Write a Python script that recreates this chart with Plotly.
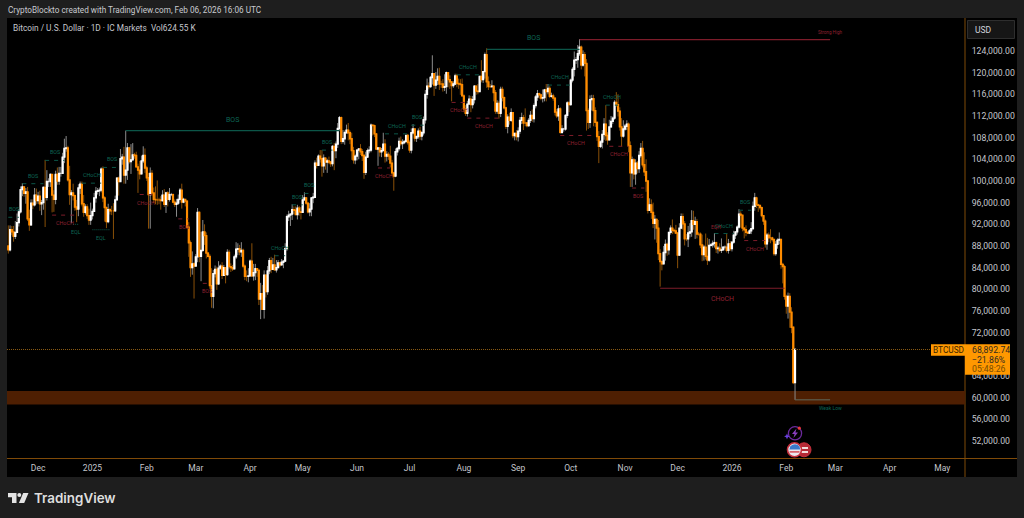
import plotly.graph_objects as go
import pandas as pd

FIRST_DAY = "2024-11-14"
# daily values, thousands of USD, one line per calendar month
closes = [
 87.3,91.0,90.6,89.8,90.5,92.3,94.3,98.4,98.9,97.7,98.0,93.0,91.9,95.9,95.6,97.4,96.4,
 97.2,95.8,96.0,98.8,97.0,99.9,99.9,101.2,97.4,96.6,101.2,100.0,101.4,101.4,104.4,106.0,106.1,100.2,97.5,97.8,97.3,95.2,94.8,98.7,99.4,95.8,94.2,95.2,93.6,92.8,93.6,
 94.4,96.9,98.1,98.2,98.3,102.2,96.9,95.1,92.5,94.7,94.5,94.5,94.5,96.5,100.5,99.9,104.1,104.4,101.1,102.0,106.1,103.6,103.9,104.8,104.7,102.6,102.0,101.3,103.7,104.7,102.4,
 100.6,97.5,101.4,97.8,96.6,96.5,96.5,96.5,96.4,97.4,95.7,97.8,96.6,97.5,97.5,96.1,95.7,95.9,96.6,98.3,96.1,96.6,96.3,91.5,88.6,84.0,84.7,84.3,
 86.0,94.2,86.1,87.2,90.6,89.9,86.7,86.1,80.7,78.7,82.9,83.7,81.0,83.9,84.3,82.6,84.0,82.7,86.8,84.2,84.0,83.8,86.0,87.4,87.5,86.9,87.2,84.3,82.4,82.4,82.5,
 85.2,82.5,83.1,83.8,83.5,78.2,79.2,76.3,82.6,79.6,83.4,85.3,83.7,84.5,83.6,84.0,84.9,84.5,85.0,85.2,87.5,93.4,93.7,93.9,94.7,94.6,93.8,95.0,94.3,94.2,
 96.5,96.9,95.9,94.3,94.8,96.9,97.0,103.3,102.9,104.6,104.1,102.8,104.2,103.5,103.7,103.5,103.2,106.4,105.6,106.8,109.7,111.7,107.3,107.8,108.9,109.4,108.9,107.8,105.6,103.9,104.6,
 105.7,105.9,105.4,104.7,101.6,104.4,105.6,105.7,110.3,110.2,108.7,105.9,106.1,105.4,105.6,106.8,104.6,104.9,104.6,103.3,101.5,100.9,105.4,106.0,107.3,106.9,107.1,107.3,108.4,107.1,
 105.7,108.9,109.6,107.9,108.2,109.2,108.3,108.9,111.3,116.0,117.5,117.4,119.1,119.8,117.7,118.6,119.3,117.9,117.9,117.3,117.4,120.0,118.7,118.3,117.6,117.9,119.4,118.0,117.9,117.8,115.7,
 113.3,112.5,114.2,115.1,114.1,115.0,117.5,116.6,116.5,119.3,118.7,120.2,123.3,118.3,117.4,117.4,117.5,116.3,112.9,114.3,112.5,116.9,115.4,113.5,110.1,111.8,111.2,112.6,108.4,108.8,108.2,
 109.2,111.2,111.7,110.7,110.7,110.2,111.2,112.1,111.5,113.9,115.5,116.1,115.9,115.3,115.4,116.8,116.5,117.1,115.6,115.7,115.3,112.7,112.0,113.3,109.0,109.6,109.6,112.1,114.4,114.1,
 118.6,120.6,122.3,122.4,123.5,124.7,121.4,123.3,121.7,113.0,110.8,115.0,115.2,113.0,110.8,108.2,106.4,107.2,108.6,110.5,108.4,107.6,110.0,111.0,111.6,114.5,114.1,112.9,110.0,108.3,109.6,
 110.1,110.5,106.5,101.5,103.9,101.3,103.3,102.3,104.7,106.0,103.0,101.7,100.0,94.6,95.6,94.2,92.2,92.9,91.3,86.6,85.1,84.7,86.8,88.3,87.3,90.5,91.3,90.9,90.8,90.4,
 86.3,91.3,93.4,92.1,89.3,89.3,90.4,90.6,92.7,92.0,92.5,90.2,90.2,88.2,86.4,87.8,86.1,85.4,88.1,88.2,88.5,88.6,87.5,87.6,87.2,87.3,87.8,87.8,87.2,88.4,87.5,
 88.7,90.0,90.6,91.5,93.9,93.7,91.3,91.0,90.5,90.4,90.8,91.2,95.3,96.9,95.6,95.5,95.1,93.6,92.6,88.4,90.0,89.5,89.5,89.2,86.6,88.3,89.1,89.2,84.6,84.2,78.7,
 76.9,78.7,75.8,73.0,62.8,68.89,
]
highs = [
 91.8,91.8,91.7,91.7,92.6,94.0,94.8,99.0,99.6,99.0,98.7,98.9,94.7,96.6,96.6,98.7,98.6,
 98.0,98.2,96.5,99.0,103.9,102.0,100.5,101.4,101.2,98.3,101.9,102.5,102.6,102.6,105.2,107.8,108.3,106.5,102.8,98.3,99.5,97.5,96.5,99.4,99.9,99.9,97.4,95.7,95.7,94.9,96.0,
 94.9,97.8,98.9,98.7,98.8,102.5,102.7,97.2,95.3,95.8,95.0,95.4,95.9,97.3,100.7,100.8,105.9,105.0,106.3,109.3,107.0,106.3,106.8,107.0,105.2,105.4,103.2,103.7,104.7,106.4,106.0,
 102.8,101.5,102.5,102.0,98.8,99.0,100.1,96.9,97.2,98.3,98.5,98.0,98.1,98.7,97.8,97.7,96.6,96.7,97.5,98.7,99.5,96.9,96.6,96.4,92.4,89.0,87.0,85.0,
 86.5,95.0,94.4,90.6,92.8,92.0,90.5,86.9,86.5,83.9,83.6,84.4,84.2,85.2,84.6,85.0,84.5,84.0,87.4,87.3,84.8,84.5,86.4,88.7,88.5,88.2,88.7,87.5,84.6,83.5,83.9,
 85.5,88.5,84.7,84.7,83.9,83.8,81.2,80.8,83.5,82.7,84.3,85.8,86.0,85.8,86.4,85.4,85.4,85.0,85.6,85.3,88.5,93.8,94.5,94.0,95.7,95.3,95.3,95.6,95.4,95.2,
 97.4,97.9,97.0,96.0,95.9,96.9,97.8,103.8,104.3,104.9,105.7,105.7,104.9,104.4,104.1,104.5,103.7,106.6,107.0,107.3,110.7,112.0,111.9,109.4,109.3,110.4,110.7,109.3,108.9,106.3,104.9,
 105.8,106.0,106.8,105.9,105.0,105.4,106.0,106.4,110.6,110.4,110.4,108.6,106.2,106.2,106.1,108.9,107.7,105.5,105.3,106.5,103.9,101.7,106.0,106.3,108.0,108.2,107.7,107.5,108.5,108.7,
 107.5,109.7,110.5,109.7,108.4,109.7,110.0,109.2,111.9,116.8,118.9,118.2,119.4,123.2,119.9,120.1,120.8,120.9,118.5,118.8,119.7,120.2,120.1,119.5,118.3,118.4,119.8,119.8,118.9,118.8,118.9,
 116.0,114.0,114.8,115.8,115.7,115.7,117.7,117.6,117.9,119.4,122.3,120.3,123.7,124.5,119.3,117.9,118.6,117.7,116.8,114.9,114.8,117.4,117.4,115.6,113.7,112.3,112.6,113.4,112.6,108.9,109.4,
 109.9,111.8,112.6,112.2,113.4,110.9,111.6,112.9,113.2,114.3,115.9,116.8,116.3,116.1,116.9,117.0,117.9,117.9,117.5,116.3,116.1,115.4,113.3,114.0,113.6,110.3,109.8,112.3,114.7,114.8,
 118.9,121.0,123.9,122.9,125.1,126.2,125.0,124.1,123.8,122.5,113.4,115.8,115.9,115.9,113.6,111.0,109.2,107.5,109.4,111.6,114.0,109.0,111.3,112.0,111.9,114.9,116.4,116.0,113.6,111.6,111.2,
 110.5,111.2,110.8,107.3,104.5,104.2,104.0,103.7,105.5,107.0,107.4,105.3,104.0,99.0,96.8,96.6,96.0,93.7,93.1,92.8,87.4,85.4,88.0,89.2,88.6,90.6,91.8,92.9,91.2,91.9,
 90.4,92.2,94.0,94.0,92.6,90.2,91.7,92.2,94.6,94.5,93.4,93.0,90.6,90.5,90.1,88.2,90.3,89.5,89.3,88.5,89.0,90.4,88.8,88.0,88.5,89.4,87.9,88.1,90.3,89.3,88.9,
 88.8,90.8,90.7,91.8,94.8,94.4,93.6,91.5,91.8,90.7,91.1,92.4,96.2,97.8,97.1,95.8,95.5,95.3,93.6,92.9,90.4,90.5,91.1,89.7,89.3,88.9,89.4,90.5,89.3,84.9,84.5,
 79.0,79.4,79.3,76.7,73.1,69.1,
]
lows = [
 86.6,87.0,90.0,88.8,89.3,90.4,91.6,94.0,97.2,97.1,95.8,92.6,90.8,91.7,94.8,95.3,95.7,
 95.8,94.5,93.7,94.7,91.5,96.4,98.9,98.9,94.2,94.3,95.7,99.3,99.3,100.8,101.3,103.3,105.4,99.9,95.6,92.2,96.4,94.5,92.4,93.5,97.6,95.3,93.4,93.8,93.0,91.9,91.9,
 92.9,94.3,96.0,97.5,97.2,97.9,96.1,92.5,91.3,92.2,93.8,93.7,89.3,94.3,96.5,97.3,100.0,103.0,99.5,99.5,100.2,103.2,101.3,103.8,104.1,102.5,97.8,100.3,101.3,103.3,101.5,
 100.0,91.2,91.2,97.3,95.9,95.7,95.6,95.7,94.7,96.2,95.2,94.1,95.3,96.2,97.2,95.9,95.2,93.4,95.6,96.4,94.9,95.9,95.3,91.2,86.0,82.3,82.7,78.3,
 84.3,85.0,85.0,81.5,86.9,88.2,85.7,85.9,80.1,76.6,76.5,82.2,79.9,80.8,83.6,81.9,82.5,81.1,82.5,83.7,83.2,83.4,83.7,85.6,86.3,86.3,86.0,83.9,81.7,81.5,81.3,
 82.4,82.3,81.6,81.7,82.3,77.1,74.5,76.2,74.6,78.5,79.0,82.8,83.0,83.6,83.5,83.1,83.9,84.1,84.4,83.9,85.2,87.1,92.6,91.7,92.8,93.9,93.7,92.9,93.6,92.9,
 94.1,96.4,95.6,94.0,93.5,93.5,95.9,96.9,102.3,102.8,103.4,100.8,101.5,102.1,101.5,103.1,102.6,102.7,102.0,104.2,106.1,109.3,106.8,106.9,106.7,108.8,107.5,106.8,103.9,103.2,103.1,
 103.8,104.0,104.8,103.7,100.4,101.1,104.6,105.1,105.3,108.4,108.1,105.7,102.8,104.5,104.4,106.0,103.4,103.6,103.9,102.5,100.9,98.2,100.7,104.7,105.6,106.5,105.9,106.8,107.1,106.7,
 105.2,105.1,108.6,107.3,107.2,107.8,107.6,107.5,108.4,110.6,115.2,116.9,117.2,117.8,115.7,117.0,117.7,116.8,117.2,116.5,116.6,116.1,117.3,117.0,114.7,117.2,117.7,117.3,117.0,115.9,115.7,
 112.7,112.0,111.9,114.2,112.7,113.4,114.3,115.9,116.0,116.5,118.2,118.1,118.9,117.2,116.8,117.2,117.2,114.7,112.4,112.4,111.5,111.8,114.7,113.2,109.6,108.8,110.4,110.9,107.9,107.5,107.5,
 107.3,108.7,110.5,109.4,110.1,109.9,110.0,110.7,110.9,110.8,113.4,114.8,115.2,114.9,114.5,114.7,114.7,116.0,115.3,115.4,114.8,112.1,111.6,111.1,108.7,108.7,109.1,109.3,111.6,112.7,
 113.9,118.2,119.3,121.6,120.9,123.1,120.6,121.1,119.3,109.3,109.6,109.8,113.0,110.1,110.0,107.4,103.3,106.1,106.0,107.6,107.4,106.7,107.5,109.8,110.5,111.3,113.7,111.9,109.3,106.4,108.0,
 109.3,109.4,105.3,98.9,98.9,100.3,99.3,101.4,101.5,104.3,102.5,100.9,98.0,94.0,94.9,93.0,91.3,89.2,88.6,85.4,80.5,83.5,84.7,85.3,86.2,86.4,90.1,90.2,90.3,90.2,
 83.9,86.2,91.1,91.0,88.1,88.9,87.8,89.6,89.7,91.0,89.3,89.4,89.9,87.6,85.2,85.3,85.5,84.5,85.1,87.9,87.7,87.7,86.7,86.6,86.9,86.7,87.2,87.4,86.8,86.6,87.1,
 87.0,88.4,89.3,90.1,91.2,91.4,90.7,89.4,89.8,90.2,90.2,90.2,91.0,94.5,95.0,94.3,94.7,93.3,91.9,87.7,87.3,88.7,88.5,88.8,86.2,86.2,87.5,88.3,83.8,81.1,78.1,
 75.5,74.6,72.9,71.9,62.5,59.6,
]
first_open = 88.0

month_ticks = ["2024-12-01","2025-01-01","2025-02-01","2025-03-01","2025-04-01","2025-05-01","2025-06-01",
               "2025-07-01","2025-08-01","2025-09-01","2025-10-01","2025-11-01","2025-12-01","2026-01-01",
               "2026-02-01","2026-03-01","2026-04-01","2026-05-01"]
month_labels = ["Dec","2025","Feb","Mar","Apr","May","Jun","Jul","Aug","Sep","Oct","Nov","Dec","2026","Feb","Mar","Apr","May"]
price_ticks = [52000,56000,60000,64000,72000,76000,80000,84000,88000,92000,96000,100000,104000,
               108000,112000,116000,120000,124000]

# start, end, level (k USD), label, line style, side of the sweep, large label
struct_up = [
 ("2025-01-20","2025-05-22",109.3,"BOS","solid",1,True),
 ("2024-11-14","2024-11-20",93.3,"BOS","dash",1,False),
 ("2024-11-22","2024-12-04",99.5,"BOS","dash",1,False),
 ("2024-12-05","2024-12-16",103.8,"BOS","dash",1,False),
 ("2024-12-26","2025-01-06",99.6,"CHoCH","dash",1,False),
 ("2025-01-07","2025-01-17",102.5,"BOS","dash",1,False),
 ("2024-12-21","2024-12-24",92.0,"EQL","dot",-1,False),
 ("2025-01-01","2025-01-11",91.0,"EQL","dot",-1,False),
 ("2025-04-15","2025-04-21",86.2,"CHoCH","dash",1,False),
 ("2025-04-25","2025-05-01",95.6,"BOS","dash",1,False),
 ("2025-05-02","2025-05-07",97.7,"BOS","dash",1,False),
 ("2025-05-12","2025-05-18",105.7,"BOS","dash",1,False),
 ("2025-06-17","2025-07-01",108.7,"CHoCH","dash",1,False),
 ("2025-07-02","2025-07-09",110.3,"BOS","dash",1,False),
 ("2025-07-28","2025-08-10",119.6,"CHoCH","dash",1,False),
 ("2025-08-14","2025-10-06",124.3,"BOS","solid",1,True),
 ("2025-09-18","2025-10-02",117.7,"CHoCH","dash",1,False),
 ("2025-10-21","2025-10-28",114.0,"CHoCH","dash",1,False),
 ("2025-12-22","2026-01-02",90.3,"CHoCH","dash",1,False),
 ("2026-01-05","2026-01-12",94.6,"BOS","dash",1,False),
]
struct_down = [
 ("2024-12-09","2024-12-24",93.7,"CHoCH","dash",-1,False),
 ("2025-01-28","2025-02-04",97.5,"CHoCH","dash",-1,False),
 ("2025-02-19","2025-02-25",93.0,"BOS","dash",-1,False),
 ("2025-03-05","2025-03-10",81.1,"BOS","dash",-1,False),
 ("2025-06-13","2025-06-20",102.4,"CHoCH","dash",-1,False),
 ("2025-07-25","2025-08-02",114.5,"CHoCH","dash",-1,False),
 ("2025-08-03","2025-08-22",111.6,"CHoCH","dash",-1,False),
 ("2025-09-25","2025-10-13",108.4,"CHoCH","dash",-1,False),
 ("2025-10-23","2025-11-03",106.4,"CHoCH","dash",-1,False),
 ("2025-11-05","2025-11-12",98.7,"BOS","dash",-1,False),
 ("2025-11-21","2026-01-31",80.2,"CHoCH","solid",-1,True),
 ("2026-01-08","2026-01-20",89.0,"CHoCH","dash",-1,False),
]
strong_high = ("2025-10-06","2026-02-26",126.1,"Strong High")
weak_low = ("2026-02-06","2026-02-26",59.6,"Weak Low")
eqh_label = ("2025-12-27",90.3,"EQH")
demand_zone = (58.72, 61.23)
last_price = 68892.74
chart_title = "CryptoBlockto created with TradingView.com, Feb 06, 2026 16:06 UTC"
legend_title = "Bitcoin / U.S. Dollar · 1D · IC Markets  Vol624.55 K"
price_tag = ["68,892.74","−21.86%","05:48:26"]

assert len(closes) == len(highs) == len(lows), (len(closes), len(highs), len(lows))

W, H = 1024, 518
L, R, T, B = 7, 965, 18, 458
def fx(p): return (p - L) / (R - L)
def fy(p): return 1 - (p - T) / (B - T)

GREEN = "#0c5648"; GREEN_T = "#0d6655"
RED = "#7d1c2a"; RED_T = "#8f2030"
ORANGE = "#ff8c00"; BORDER = "#7f4a08"; MUTED = "#d1d4dc"; FONT = "Roboto"

dates = pd.date_range(FIRST_DAY, periods=len(closes), freq="D")
c = [v * 1000 for v in closes]
o = [first_open * 1000] + c[:-1]
hi = [v * 1000 for v in highs]
lo = [v * 1000 for v in lows]
top = [max(a, b) for a, b in zip(o, c)]
bot = [min(a, b) for a, b in zip(o, c)]

fig = go.Figure()
fig.add_trace(go.Candlestick(x=dates, open=o, high=hi, low=lo, close=c, whiskerwidth=0,
    increasing=dict(line=dict(color="#8c8c8c", width=1), fillcolor="#8c8c8c"),
    decreasing=dict(line=dict(color="#8a5008", width=1), fillcolor="#8a5008"), hoverinfo="skip"))
fig.add_trace(go.Candlestick(x=dates, open=o, high=top, low=bot, close=c, whiskerwidth=0,
    increasing=dict(line=dict(color="#ffffff", width=1.3), fillcolor="#ffffff"),
    decreasing=dict(line=dict(color=ORANGE, width=1.3), fillcolor=ORANGE), hoverinfo="skip"))

shapes, notes = [], []
def px_rect(x0, y0, x1, y1, fill, line=None, width=0, layer="below"):
    shapes.append(dict(type="rect", xref="paper", yref="paper", x0=fx(x0), x1=fx(x1), y0=fy(y0), y1=fy(y1),
                       fillcolor=fill, line=dict(color=line or fill, width=width), layer=layer))
def px_line(x0, y0, x1, y1, color, width=1, layer="above"):
    shapes.append(dict(type="line", xref="paper", yref="paper", x0=fx(x0), x1=fx(x1), y0=fy(y0), y1=fy(y1),
                       line=dict(color=color, width=width), layer=layer))
def px_circle(cx, cy, r, fill, line, width=1):
    shapes.append(dict(type="circle", xref="paper", yref="paper", x0=fx(cx-r), x1=fx(cx+r), y0=fy(cy+r), y1=fy(cy-r),
                       fillcolor=fill, line=dict(color=line, width=width), layer="above"))
def px_poly(points, fill):
    d = "M " + " L ".join(f"{fx(a):.5f},{fy(b):.5f}" for a, b in points) + " Z"
    shapes.append(dict(type="path", xref="paper", yref="paper", path=d, fillcolor=fill, line=dict(width=0), layer="above"))
def px_text(x, y, text, size, color, anchor="left", family=FONT, weight=None):
    f = dict(size=size, color=color, family=family)
    if weight: f["weight"] = weight
    notes.append(dict(xref="paper", yref="paper", x=fx(x), y=fy(y), text=text, showarrow=False, xanchor=anchor,
                      yanchor="middle", font=f))

# pane: chart + axes
px_rect(7, 18, 1017, 477, "#000000")
px_line(7, 458.5, 1017, 458.5, BORDER, 1, "below")
px_line(965, 18, 965, 477, BORDER, 1, "below")

# demand zone and last-price line
shapes.append(dict(type="rect", xref="paper", yref="y", x0=0, x1=1, y0=demand_zone[0]*1000, y1=demand_zone[1]*1000,
                   fillcolor="#4e1f02", line=dict(width=0), layer="below"))
shapes.append(dict(type="line", xref="paper", yref="y", x0=0, x1=fx(931), y0=last_price, y1=last_price,
                   line=dict(color="#8a5a12", width=1, dash="1px,1px"), layer="above"))

def add_struct(rows, line_c, text_c):
    for s, e, lv, label, dash, side, big in rows:
        shapes.append(dict(type="line", xref="x", yref="y", x0=s, x1=e, y0=lv*1000, y1=lv*1000,
                           line=dict(color=line_c, width=1.2 if (big and side > 0) else 1,
                                     dash={"dash":"4px,5px","dot":"1px,1px","solid":"solid"}[dash]),
                           layer="above"))
        mid = pd.Timestamp(s) + (pd.Timestamp(e) - pd.Timestamp(s)) / 2
        notes.append(dict(x=mid, y=lv*1000, xref="x", yref="y", text=label, showarrow=False,
                          yshift=side * (11 if big else 8), font=dict(size=7 if big else 5.4, color=text_c, family=FONT)))
add_struct(struct_up, GREEN, GREEN_T)
add_struct(struct_down, RED, RED_T)

s, e, lv, label = strong_high
shapes.append(dict(type="line", xref="x", yref="y", x0=s, x1=e, y0=lv*1000, y1=lv*1000, line=dict(color=RED, width=1.3), layer="above"))
notes.append(dict(x=e, y=lv*1000, xref="x", yref="y", text=label, showarrow=False, yshift=7, font=dict(size=4.6, color=RED_T, family=FONT)))
s, e, lv, label = weak_low
shapes.append(dict(type="line", xref="x", yref="y", x0=s, x1=e, y0=lv*1000, y1=lv*1000, line=dict(color="#5f6a5f", width=1), layer="above"))
notes.append(dict(x=e, y=lv*1000, xref="x", yref="y", text=label, showarrow=False, yshift=-8, font=dict(size=5, color=GREEN_T, family=FONT)))
notes.append(dict(x=eqh_label[0], y=eqh_label[1]*1000, xref="x", yref="y", text=eqh_label[2], showarrow=False,
                  yshift=7, xshift=-7, font=dict(size=5, color=RED_T, family=FONT)))

# price tag
px_rect(931, 344.3, 965, 355.7, "#ff9800", layer="above")
px_rect(965, 344.3, 1010, 374.7, "#ff9800", layer="above")
px_text(948, 350.3, "BTCUSD", 8.3, "#3a2400", "center")
px_text(970, 350.3, price_tag[0], 8.7, "#2e2a20")
px_text(970, 359.7, price_tag[1], 8.7, "#2e2a20")
px_text(970, 369, price_tag[2], 8.7, "#7a4c00")

# USD button
shapes.append(dict(type="rect", xref="paper", yref="paper", x0=fx(967.5), x1=fx(1014.5), y0=fy(38.5), y1=fy(20.5),
                   fillcolor="#161616", line=dict(color="#2e2e2e", width=1), layer="above"))
px_text(973, 29.8, "USD", 8.5, MUTED)

# headings
px_text(6, 10.2, chart_title, 8.2, "#c9cbd0")
px_text(10.5, 28, legend_title, 8.3, "#c4c6cc")

# event icons
px_circle(795, 433.3, 6.6, "#000000", "#6b2a9c", 1.3)
px_poly([(796.5,428.5),(792,434),(794.6,434),(793.4,438),(798,432.6),(795.4,432.6)], "#8a3fc0")
px_circle(799.3, 428.2, 1.6, "#e8383c", "#e8383c", 0)
px_poly([(787,433.4),(787.9,435.4),(789.9,436.3),(787.9,437.2),(787,439.2),(786.1,437.2),(784.1,436.3),(786.1,435.4)], "#6a40e0")
px_circle(804, 449.8, 7, "#b62a36", "#c8303c", 1)
px_rect(799, 447, 808, 449, "#f3dcdc", layer="above")
px_rect(799, 451, 808, 453, "#f3dcdc", layer="above")
px_circle(794.5, 449.8, 7, "#e9e9ee", "#c62f3c", 1.6)
px_poly([(789.4,449.5),(790.2,446.6),(792.4,444.8),(795,444.3),(797.6,444.8),(799.6,446.8),(800.2,449.5)], "#3a78c8")
px_rect(789.6, 451.2, 799.5, 452.6, "#d6404a", layer="above")

# TradingView logo
px_poly([(8,493),(16.5,493),(16.5,503),(12,503),(12,497.2),(8,497.2)], "#e4e4e4")
px_circle(19.3, 495, 2, "#e4e4e4", "#e4e4e4", 0)
px_poly([(23.2,493),(28.5,493),(24.2,503),(18.9,503)], "#e4e4e4")
px_text(32, 497.8, "TradingView", 13.4, "#dedede", family="Inter", weight=600)

fig.update_layout(
    width=W, height=H, margin=dict(l=L, r=W-R, t=T, b=H-B, pad=0), autosize=False,
    paper_bgcolor="#1e1e1e", plot_bgcolor="#000000", showlegend=False, hovermode=False,
    shapes=shapes, annotations=notes, font=dict(family=FONT, color=MUTED),
    xaxis=dict(type="date", range=["2024-11-13 06:00","2026-05-14 00:00"], rangeslider=dict(visible=False),
               showgrid=False, zeroline=False, showline=False, tickmode="array", tickvals=month_ticks, ticktext=month_labels,
               ticks="outside", ticklen=2, tickcolor="rgba(0,0,0,0)", tickfont=dict(size=8.5, color="#c4c6cc", family=FONT), fixedrange=True),
    yaxis=dict(side="right", range=[48865,130085], showgrid=False, zeroline=False, showline=False,
               tickmode="array", tickvals=price_ticks, tickformat=",.2f", ticks="outside", ticklen=4,
               tickcolor="rgba(0,0,0,0)", tickfont=dict(size=8.7, color="#c4c6cc", family=FONT), fixedrange=True),
)
fig.write_html("out.html", config=dict(displayModeBar=False, responsive=False),
               post_script="document.body.style.margin='0';document.body.style.background='#1e1e1e';document.documentElement.style.overflow='hidden';")
